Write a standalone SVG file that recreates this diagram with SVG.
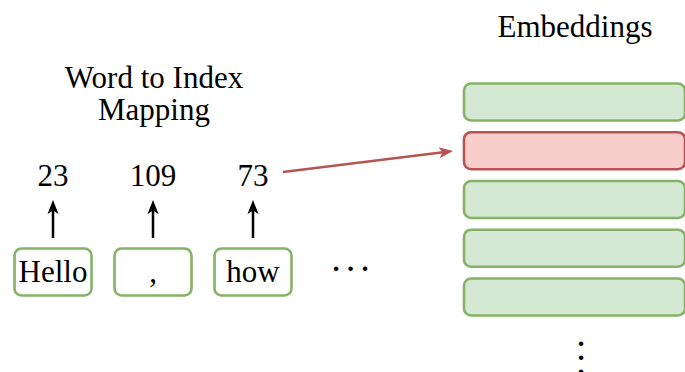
<svg xmlns="http://www.w3.org/2000/svg" width="685" height="372" viewBox="0 0 685 372">
  <style>
    text { font-family: "Liberation Serif", "Times New Roman", serif; font-size: 31px; fill: #000; text-anchor: middle; }
    text.dots { font-size: 38px; }
    .word { fill: #ffffff; stroke: #82b366; stroke-width: 2.6; }
    .emb { fill: #d5e8d4; stroke: #82b366; stroke-width: 2.6; }
    .emb-hit { fill: #f8cecc; stroke: #b85450; stroke-width: 2.6; }
    .up { stroke: #000; stroke-width: 2.5; fill: none; }
    .lookup { stroke: #b85450; stroke-width: 2.5; fill: none; }
  </style>
  <defs>
    <marker id="head-black" markerUnits="userSpaceOnUse" markerWidth="16" markerHeight="14" viewBox="-5 -7 16 14" refX="0" refY="0" orient="auto" overflow="visible">
      <path d="M10,0 L-4,-5.5 L-0.5,0 L-4,5.5 Z" fill="#000"/>
    </marker>
    <marker id="head-red" markerUnits="userSpaceOnUse" markerWidth="16" markerHeight="14" viewBox="-5 -7 16 14" refX="0" refY="0" orient="auto" overflow="visible">
      <path d="M10,0 L-4,-5.5 L-0.5,0 L-4,5.5 Z" fill="#b85450"/>
    </marker>
  </defs>

  <!-- titles -->
  <g id="mapping-title">
    <text x="154" y="88">Word to Index</text>
    <text x="154" y="119.5">Mapping</text>
  </g>
  <g id="embeddings-title">
    <text x="575" y="37">Embeddings</text>
  </g>

  <!-- indices -->
  <g id="index-23"><text x="53" y="186">23</text></g>
  <g id="index-109"><text x="153" y="186">109</text></g>
  <g id="index-73"><text x="253" y="186">73</text></g>

  <!-- tokens -->
  <g id="token-hello">
    <rect class="word" x="14.5" y="248.5" width="77" height="47" rx="7"/>
    <text x="53" y="282">Hello</text>
  </g>
  <g id="token-comma">
    <rect class="word" x="114.5" y="248.5" width="77" height="47" rx="7"/>
    <text x="153" y="282">,</text>
  </g>
  <g id="token-how">
    <rect class="word" x="214.5" y="248.5" width="77" height="47" rx="7"/>
    <text x="253" y="282">how</text>
  </g>
  <g id="token-more">
    <text class="dots" x="336 350.5 365" y="281">···</text>
  </g>

  <!-- embedding table rows -->
  <g id="emb-row-0"><rect class="emb" x="464" y="83.5" width="221" height="37" rx="7"/></g>
  <g id="emb-row-1"><rect class="emb-hit" x="464" y="132.2" width="221" height="37" rx="7"/></g>
  <g id="emb-row-2"><rect class="emb" x="464" y="181" width="221" height="37" rx="7"/></g>
  <g id="emb-row-3"><rect class="emb" x="464" y="229.7" width="221" height="37" rx="7"/></g>
  <g id="emb-row-4"><rect class="emb" x="464" y="278.5" width="221" height="37" rx="7"/></g>
  <g id="emb-more">
    <text class="dots" x="581 581 581" y="355.7 370 384.3">···</text>
  </g>

  <!-- connectors -->
  <g id="connectors">
    <line class="up" x1="53" y1="238" x2="53" y2="210" marker-end="url(#head-black)"/>
    <line class="up" x1="153" y1="238" x2="153" y2="210" marker-end="url(#head-black)"/>
    <line class="up" x1="253" y1="238" x2="253" y2="210" marker-end="url(#head-black)"/>
    <line class="lookup" x1="283" y1="172" x2="443.1" y2="152.2" marker-end="url(#head-red)"/>
  </g>
</svg>
